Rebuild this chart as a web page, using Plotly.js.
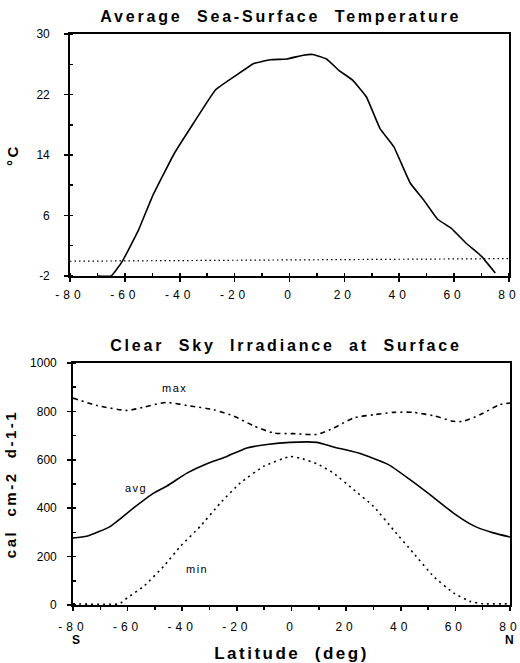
<!DOCTYPE html>
<html><head><meta charset="utf-8">
<script src="https://cdn.plot.ly/plotly-3.0.1.min.js"></script>
<style>
body{margin:0;background:#fff}
#chart{width:520px;height:663px}
.gtitle{letter-spacing:2.8px}
.xtick text,.x2tick text{letter-spacing:4px}
.annotation-text{letter-spacing:1.5px}
.annotation[data-index="0"] .annotation-text{letter-spacing:2.8px}
.g-xtitle text,.g-x2title text{letter-spacing:2.5px}
.g-ytitle text,.g-y2title text{letter-spacing:2.5px}
</style></head><body><div id="chart"></div>
<script>
// Top panel: average sea-surface temperature
const sstLat  = [-70, -65, -61, -55, -50, -42, -35, -27, -20, -13, -7, -1, 5, 8.5, 13.5, 18, 23, 28, 33, 38, 44, 49, 54, 59, 64.5, 70, 75];
const sstTemp = [-2, -2, -0.1, 4.1, 8.5, 14.2, 18.2, 22.6, 24.4, 26.1, 26.6, 26.7, 27.2, 27.3, 26.7, 25.2, 23.9, 21.7, 17.5, 15.1, 10.3, 8.0, 5.5, 4.3, 2.3, 0.6, -1.6];
const freezeLat  = [-80, 80];
const freezeTemp = [-0.05, 0.3];

// Bottom panel: clear sky irradiance at surface
const maxLat = [-80, -71, -60, -54, -46, -38, -28.5, -21, -14, -6.6, 0.7, 9.3, 15.4, 22.7, 30, 37.3, 44.6, 52, 59.3, 62.9, 69, 76.3, 80];
const maxVal = [855, 824, 804, 818, 837, 824, 807, 780, 741, 711, 708, 705, 731, 773, 786, 796, 796, 782, 759, 759, 786, 828, 835];
const avgLat = [-80, -75, -66.3, -57.8, -50.5, -45.6, -38.3, -31, -23.7, -16.3, -9, -0.5, 9.3, 15.4, 24.5, 35.5, 43.4, 50.7, 59.3, 66.6, 73.9, 80];
const avgVal = [277, 284, 325, 401, 462, 492, 545, 584, 614, 649, 663, 672, 672, 653, 628, 580, 518, 456, 380, 328, 298, 281];
const minLat = [-80, -63, -60.2, -54.1, -46.8, -40.7, -33.4, -26.1, -18.8, -10.2, -0.5, 3.2, 9.3, 15.4, 22.7, 30, 37.3, 44.6, 52, 59.3, 65.4, 70.2, 80];
const minVal = [5, 5, 29, 77, 160, 242, 325, 421, 504, 573, 614, 607, 584, 545, 477, 408, 311, 215, 118, 50, 15, 5, 5];

const latTicks = [-80, -60, -40, -20, 0, 20, 40, 60, 80];
const latTickText = ['-80', '-60', '-40', '-20', '0', '20', '40', '60', '80'];
const sstTicks = [-2, 6, 14, 22, 30];
const sstTickText = ['-2', '6', '14', '22', '30'];
const irrTicks = [0, 200, 400, 600, 800, 1000];

const seriesLabels = [
  {text: 'max', x: -43, y: 895},
  {text: 'avg', x: -57, y: 485},
  {text: 'min', x: -34.5, y: 150}
];

const font = 'Liberation Sans, Arial, Helvetica, sans-serif';

const traces = [
  {x: sstLat, y: sstTemp, xaxis: 'x', yaxis: 'y', mode: 'lines', line: {color: '#000', width: 1.6, shape: 'spline', smoothing: 0.3}, hoverinfo: 'skip'},
  {x: freezeLat, y: freezeTemp, xaxis: 'x', yaxis: 'y', mode: 'lines', line: {color: '#000', width: 1.2, dash: '1.5px,3px'}, hoverinfo: 'skip'},
  {x: maxLat, y: maxVal, xaxis: 'x2', yaxis: 'y2', mode: 'lines', line: {color: '#000', width: 1.6, dash: '5px,4px,2px,4px', shape: 'spline', smoothing: 0.6}, hoverinfo: 'skip'},
  {x: avgLat, y: avgVal, xaxis: 'x2', yaxis: 'y2', mode: 'lines', line: {color: '#000', width: 1.6, shape: 'spline', smoothing: 0.5}, hoverinfo: 'skip'},
  {x: minLat, y: minVal, xaxis: 'x2', yaxis: 'y2', mode: 'lines', line: {color: '#000', width: 1.6, dash: '2px,4px', shape: 'spline', smoothing: 0.4}, hoverinfo: 'skip'}
];

const axisCommon = {
  showline: true, mirror: true, linecolor: '#000', linewidth: 1.8,
  showgrid: false, zeroline: false, ticks: 'outside', ticklen: 4, tickwidth: 1.5, tickcolor: '#000',
  ticklabeloverflow: 'allow',
  tickfont: {family: font, size: 12, color: '#000'}
};

const annotations = [
  {text: 'Clear\u00a0\u00a0Sky\u00a0\u00a0Irradiance\u00a0\u00a0at\u00a0\u00a0Surface', xref: 'paper', yref: 'paper', x: 0.49, y: 1.0, yshift: -311, showarrow: false,
   font: {family: font, size: 16, color: '#000', weight: 'bold'}, xanchor: 'center', yanchor: 'middle'},
  {text: 'S', xref: 'x2', yref: 'paper', x: -78.5, y: 0, yshift: -26, yanchor: 'top', showarrow: false, font: {family: font, size: 12, color: '#000', weight: 'bold'}},
  {text: 'N', xref: 'x2', yref: 'paper', x: 80, y: 0, yshift: -26, yanchor: 'top', showarrow: false, font: {family: font, size: 12, color: '#000', weight: 'bold'}}
].concat(seriesLabels.map(l => ({
  text: l.text, xref: 'x2', yref: 'y2', x: l.x, y: l.y, showarrow: false,
  font: {family: font, size: 11, color: '#000'}
})));

const layout = {
  width: 520, height: 663,
  paper_bgcolor: '#fff', plot_bgcolor: '#fff',
  margin: {l: 70, r: 10, t: 34, b: 58},
  showlegend: false,
  font: {family: font, color: '#000'},
  title: {text: 'Average\u00a0\u00a0Sea-Surface\u00a0\u00a0Temperature', x: 0.54, xanchor: 'center', y: 0.975, yanchor: 'middle',
          font: {family: font, size: 16, color: '#000', weight: 'bold'}},
  xaxis: Object.assign({}, axisCommon, {domain: [0, 0.9977], range: [-80, 80], tickvals: latTicks, ticktext: latTickText, anchor: 'y',
    ticklabelstandoff: 3,
    minor: {dtick: 10, tick0: 0, ticks: 'inside', ticklen: 3, tickcolor: '#000'}}),
  yaxis: Object.assign({}, axisCommon, {domain: [0.5762, 1], range: [-2, 30], tickvals: sstTicks, ticktext: sstTickText, anchor: 'x',
    ticklabelstandoff: 12,
    minor: {dtick: 4, tick0: -2, ticks: 'inside', ticklen: 3, tickcolor: '#000'},
    title: {text: '°C', standoff: 14, font: {family: font, size: 15, color: '#000', weight: 'bold'}}}),
  xaxis2: Object.assign({}, axisCommon, {domain: [0.0068, 1], range: [-80, 80], tickvals: latTicks, ticktext: latTickText, anchor: 'y2',
    ticklabelstandoff: 6,
    minor: {dtick: 10, tick0: 0, ticks: 'outside', ticklen: 3, tickcolor: '#000'},
    title: {text: 'Latitude\u00a0\u00a0(deg)', standoff: 17, font: {family: font, size: 17, color: '#000', weight: 'bold'}}}),
  yaxis2: Object.assign({}, axisCommon, {domain: [0, 0.4238], range: [0, 1000], tickvals: irrTicks, anchor: 'x2',
    ticklabelstandoff: 8,
    minor: {dtick: 100, tick0: 0, ticks: 'inside', ticklen: 3, tickcolor: '#000'},
    title: {text: 'cal\u00a0\u00a0cm-2\u00a0\u00a0d-1-1', standoff: 10, font: {family: font, size: 15, color: '#000', weight: 'bold'}}}),
  annotations: annotations
};

Plotly.newPlot('chart', traces, layout, {staticPlot: true, displayModeBar: false});
</script>
</body></html>
